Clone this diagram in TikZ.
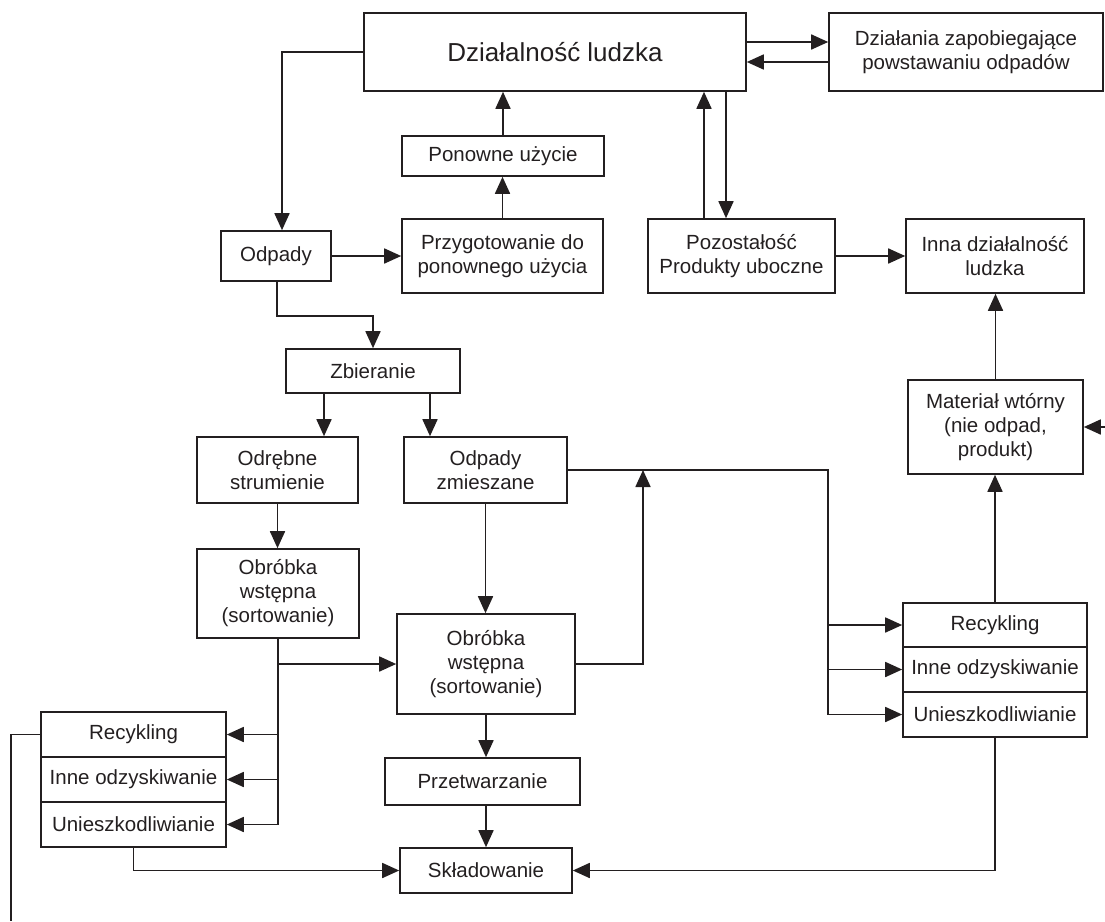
\documentclass[tikz,border=0pt]{standalone}
\usepackage{fontspec}
\setmainfont{Liberation Sans}
\usetikzlibrary{arrows.meta,calc}
\definecolor{ink}{RGB}{35,31,32}
\begin{document}
\begin{tikzpicture}[x=1pt,y=-1pt,
  box/.style={draw=ink, text=ink, line width=1.6pt, align=center, inner sep=0pt, font=\fontsize{20.5}{24}\selectfont},
  ln/.style={draw=ink, line width=1.7pt},
  arr/.style={ln, -{Triangle[length=17pt,width=15pt]}},
]
\useasboundingbox (0,0) rectangle (1105,921);
% top row
\node[box, minimum width=382pt, minimum height=78pt, font=\fontsize{26}{30}\selectfont] (dl) at (555,52) {Działalność ludzka};
\node[box, minimum width=274pt, minimum height=78pt] (dz) at (966,52) {Działania zapobiegające\\powstawaniu odpadów};
\node[box, minimum width=202pt, minimum height=40pt] (pon) at (503,156) {Ponowne użycie};
\node[box, minimum width=110pt, minimum height=50pt] (odp) at (276,256) {Odpady};
\node[box, minimum width=201pt, minimum height=74pt] (prz) at (502.5,256) {Przygotowanie do\\ponownego użycia};
\node[box, minimum width=187pt, minimum height=74pt] (poz) at (741.5,256) {Pozostałość\\Produkty uboczne};
\node[box, minimum width=178pt, minimum height=74pt] (inna) at (995,256) {Inna działalność\\ludzka};
% middle
\node[box, minimum width=174pt, minimum height=44pt] (zb) at (373,371) {Zbieranie};
\node[box, minimum width=175pt, minimum height=94pt] (mat) at (995.5,427) {Materiał wtórny\\(nie odpad,\\produkt)};
\node[box, minimum width=161pt, minimum height=66pt] (odr) at (277.5,470) {Odrębne\\strumienie};
\node[box, minimum width=163pt, minimum height=66pt] (zm) at (485.5,470) {Odpady\\zmieszane};
\node[box, minimum width=162pt, minimum height=89pt] (ob1) at (278,593.5) {Obróbka\\wstępna\\(sortowanie)};
\node[box, minimum width=178pt, minimum height=100pt] (ob2) at (486,664) {Obróbka\\wstępna\\(sortowanie)};
\node[box, minimum width=195pt, minimum height=47pt] (prt) at (482.5,781.5) {Przetwarzanie};
\node[box, minimum width=172pt, minimum height=45pt] (skl) at (486,870.5) {Składowanie};
% right stack
\node[box, minimum width=184pt, minimum height=44pt] (rrec) at (995,625) {Recykling};
\node[box, minimum width=184pt, minimum height=45pt] (rinne) at (995,669.5) {Inne odzyskiwanie};
\node[box, minimum width=184pt, minimum height=45pt] (runi) at (995,714.5) {Unieszkodliwianie};
% left stack
\node[box, minimum width=185pt, minimum height=45pt] (lrec) at (133.5,734.5) {Recykling};
\node[box, minimum width=185pt, minimum height=45pt] (linne) at (133.5,779.5) {Inne odzyskiwanie};
\node[box, minimum width=185pt, minimum height=45pt] (luni) at (133.5,824.5) {Unieszkodliwianie};
% coordinates
\coordinate (j1) at (643,470);
\coordinate (j2) at (828,470);
\coordinate (mright) at (1105,427);
\coordinate (lend) at (11,921);
% connectors
\draw[arr] (dl.west) -| ([xshift=6pt]odp.north);
\draw[arr] ([yshift=10pt]dl.east) -- ([yshift=10pt]dl.east -| dz.west);
\draw[arr] ([yshift=-10pt]dz.west) -- ([yshift=-10pt]dz.west -| dl.east);
\draw[arr] (odp.east) -- (prz.west);
\draw[arr] (prz.north) -- (prz.north |- pon.south);
\draw[arr] (pon.north) -- (pon.north |- dl.south);
\draw[arr] ([xshift=-37.5pt]poz.north) -- ([xshift=-37.5pt]poz.north |- dl.south);
\draw[arr] ([xshift=-15.5pt]poz.north |- dl.south) -- ([xshift=-15.5pt]poz.north);
\draw[arr] (poz.east) -- (inna.west);
\draw[arr] (mat.north) -- (mat.north |- inna.south);
\draw[arr] (mright) -- (mat.east);
\draw[arr] (rrec.north) -- (rrec.north |- mat.south);
\draw[arr] ([xshift=1pt]odp.south) -- ++(0,34) -| (zb.north);
\draw[arr] ([xshift=-49pt]zb.south) -- ([xshift=-49pt]zb.south |- odr.north);
\draw[arr] ([xshift=57pt]zb.south) -- ([xshift=57pt]zb.south |- zm.north);
\draw[arr] (odr.south) -- (odr.south |- ob1.north);
\draw[arr] (zm.south) -- (zm.south |- ob2.north);
\draw[ln] (zm.east) -- (j2) -- (j2 |- runi.west);
\draw[arr] (j2 |- rrec.west) -- (rrec.west);
\draw[arr] (j2 |- rinne.west) -- (rinne.west);
\draw[arr] (j2 |- runi.west) -- (runi.west);
\draw[arr] (ob2.east) -| (j1);
\draw[ln] (ob1.south) -- (ob1.south |- luni.east);
\draw[arr] (ob1.south |- ob2.west) -- (ob2.west);
\draw[arr] (ob1.south |- lrec.east) -- (lrec.east);
\draw[arr] (ob1.south |- linne.east) -- (linne.east);
\draw[arr] (ob1.south |- luni.east) -- (luni.east);
\draw[arr] (ob2.south) -- (ob2.south |- prt.north);
\draw[arr] (ob2.south |- prt.south) -- (skl.north);
\draw[arr] (luni.south) |- (skl.west);
\draw[arr] (runi.south) |- (skl.east);
\draw[ln] (lrec.west) -| (lend);
\end{tikzpicture}
\end{document}
